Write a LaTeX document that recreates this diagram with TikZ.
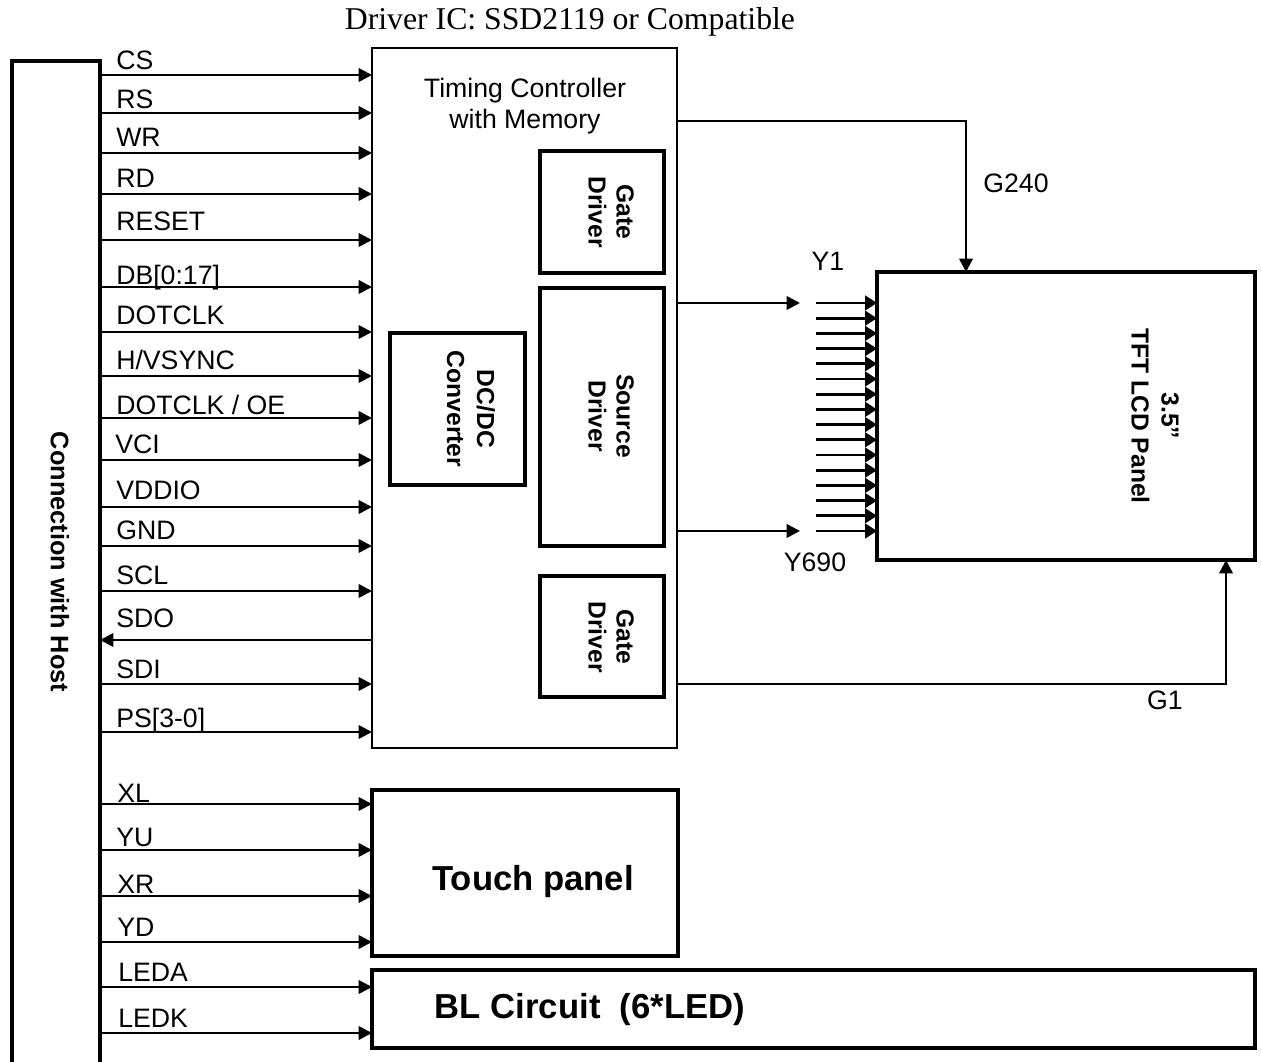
\documentclass[tikz,border=0pt]{standalone}
\usepackage{fontspec}
\setmainfont{Liberation Serif}
\setsansfont{Liberation Sans}
\usetikzlibrary{arrows.meta,fit}
\begin{document}
\begin{tikzpicture}[x=0.75pt,y=-0.75pt,
  lab/.style={font=\sffamily\fontsize{20}{24}\selectfont, inner sep=0, anchor=base west},
  frame/.style={inner sep=0, outer sep=0},
  thickbox/.style={draw, line width=3pt, inner sep=0, outer sep=0},
  thinbox/.style={draw, line width=1.6pt, inner sep=0, outer sep=0},
  sig/.style={line width=2pt, -{Triangle[length=10pt,width=10pt]}},
  busline/.style={line width=2pt, -{Triangle[length=9pt,width=11pt]}},
  rtxt/.style={rotate=-90, font=\sffamily\bfseries\fontsize{18.5}{21}\selectfont, align=center, inner sep=0},
  big/.style={font=\sffamily\bfseries\fontsize{26}{30}\selectfont, inner sep=0},
]
\useasboundingbox[fill=white] (0,0) rectangle (1261,1062);

% title
\node[font=\rmfamily\fontsize{23.8}{26}\selectfont, inner sep=0] (title) at (570,22) {Driver IC: SSD2119 or Compatible};

% host
\node[frame, fit={(12,61) (100,1062)}] (host) {};
\draw[line width=3.2pt] (host.south west) -- (host.north west) -- (host.north east) -- (host.south east);
\node[rtxt, font=\sffamily\bfseries\fontsize{19}{22}\selectfont] (hosttxt) at (60,562) {Connection with Host};

% main boxes
\node[thinbox, fit={(372,48) (677,748)}] (tc) {};
\node[font=\sffamily\fontsize{20}{23.25}\selectfont, align=center, inner sep=0] (tctxt) at (525,106) {Timing Controller\\with Memory};
\node[thickbox, fit={(540,151) (664,273)}] (gd1) {};
\node[thickbox, fit={(540,288) (664,546)}] (sd) {};
\node[thickbox, fit={(540,576) (664,697)}] (gd2) {};
\node[thickbox, fit={(390,333) (525,485)}] (dc) {};
\node[rtxt] (gd1txt) at (611,212) {Gate\\Driver};
\node[rtxt] (sdtxt) at (611,416) {Source\\Driver};
\node[rtxt] (gd2txt) at (611,637) {Gate\\Driver};
\node[rtxt, font=\sffamily\bfseries\fontsize{18.5}{22.5}\selectfont] (dctxt) at (471,409) {DC/DC\\Converter};

\node[thickbox, fit={(877,272) (1255,560)}] (tft) {};
\node[rtxt, font=\sffamily\bfseries\fontsize{18.5}{22.5}\selectfont] (tfttxt) at (1155,416) {3.5”\\TFT LCD Panel};

\node[thickbox, fit={(372,790) (678,956)}] (touch) {};
\node[big] (touchtxt) at (533,882) {Touch panel};
\node[thickbox, fit={(372,970) (1255,1048)}] (bl) {};
\node[big] (bltxt) at (590,1010) {BL Circuit\ \ (6*LED)};

% host signals
\draw[sig] (host.east |- 0,75) -- (tc.west |- 0,75);
\node[lab] (lCS) at (116,70) {CS};
\draw[sig] (host.east |- 0,113) -- (tc.west |- 0,113);
\node[lab] (lRS) at (116,109) {RS};
\draw[sig] (host.east |- 0,153) -- (tc.west |- 0,153);
\node[lab] (lWR) at (116,147) {WR};
\draw[sig] (host.east |- 0,194) -- (tc.west |- 0,194);
\node[lab] (lRD) at (116,188) {RD};
\draw[sig] (host.east |- 0,240) -- (tc.west |- 0,240);
\node[lab] (lRESET) at (116,231) {RESET};
\draw[sig] (host.east |- 0,287) -- (tc.west |- 0,287);
\node[lab] (lDB) at (116,285) {DB[0:17]};
\draw[sig] (host.east |- 0,332) -- (tc.west |- 0,332);
\node[lab] (lDOT) at (116,325) {DOTCLK};
\draw[sig] (host.east |- 0,376) -- (tc.west |- 0,376);
\node[lab] (lHV) at (116,370) {H/VSYNC};
\draw[sig] (host.east |- 0,418) -- (tc.west |- 0,418);
\node[lab] (lOE) at (116,415) {DOTCLK / OE};
\draw[sig] (host.east |- 0,460) -- (tc.west |- 0,460);
\node[lab] (lVCI) at (115,454) {VCI};
\draw[sig] (host.east |- 0,507) -- (tc.west |- 0,507);
\node[lab] (lVDD) at (116,500) {VDDIO};
\draw[sig] (host.east |- 0,546) -- (tc.west |- 0,546);
\node[lab] (lGND) at (116,540) {GND};
\draw[sig] (host.east |- 0,591) -- (tc.west |- 0,591);
\node[lab] (lSCL) at (116,585) {SCL};
\draw[sig] (tc.west |- 0,640) -- (host.east |- 0,640);
\node[lab] (lSDO) at (116,627) {SDO};
\draw[sig] (host.east |- 0,684) -- (tc.west |- 0,684);
\node[lab] (lSDI) at (116,678) {SDI};
\draw[sig] (host.east |- 0,732) -- (tc.west |- 0,732);
\node[lab] (lPS) at (116,727) {PS[3-0]};

\draw[sig] (host.east |- 0,804) -- (touch.west |- 0,804);
\node[lab] (lXL) at (117,802) {XL};
\draw[sig] (host.east |- 0,850) -- (touch.west |- 0,850);
\node[lab] (lYU) at (116,846) {YU};
\draw[sig] (host.east |- 0,896) -- (touch.west |- 0,896);
\node[lab] (lXR) at (117,893) {XR};
\draw[sig] (host.east |- 0,942) -- (touch.west |- 0,942);
\node[lab] (lYD) at (117,936) {YD};
\draw[sig] (host.east |- 0,987) -- (bl.west |- 0,987);
\node[lab] (lLEDA) at (118,981) {LEDA};
\draw[sig] (host.east |- 0,1033) -- (bl.west |- 0,1033);
\node[lab] (lLEDK) at (118,1027) {LEDK};

% G240
\coordinate (g240c) at (966,121);
\draw[sig] (tc.east |- g240c) -- (g240c) -- (g240c |- tft.north);
\node[lab, anchor=center] (lG240) at (1016,183) {G240};

% G1
\coordinate (g1c) at (1226,684);
\draw[sig] (tc.east |- g1c) -- (g1c) -- (g1c |- tft.south);
\node[lab, anchor=center] (lG1) at (1165,700) {G1};

% source outputs
\coordinate (y1e) at (800,303);
\coordinate (y690e) at (800,531);
\draw[sig] (tc.east |- y1e) -- (y1e);
\draw[sig] (tc.east |- y690e) -- (y690e);
\node[lab, anchor=center] (lY1) at (828,261) {Y1};
\node[lab, anchor=center] (lY690) at (815,562) {Y690};

% bus
\foreach \i in {0,...,15} {
  \pgfmathsetmacro{\yy}{303+\i*15.2}
  \coordinate (bs\i) at (816,\yy);
  \draw[busline] (bs\i) -- (tft.west |- bs\i);
}
\end{tikzpicture}
\end{document}
